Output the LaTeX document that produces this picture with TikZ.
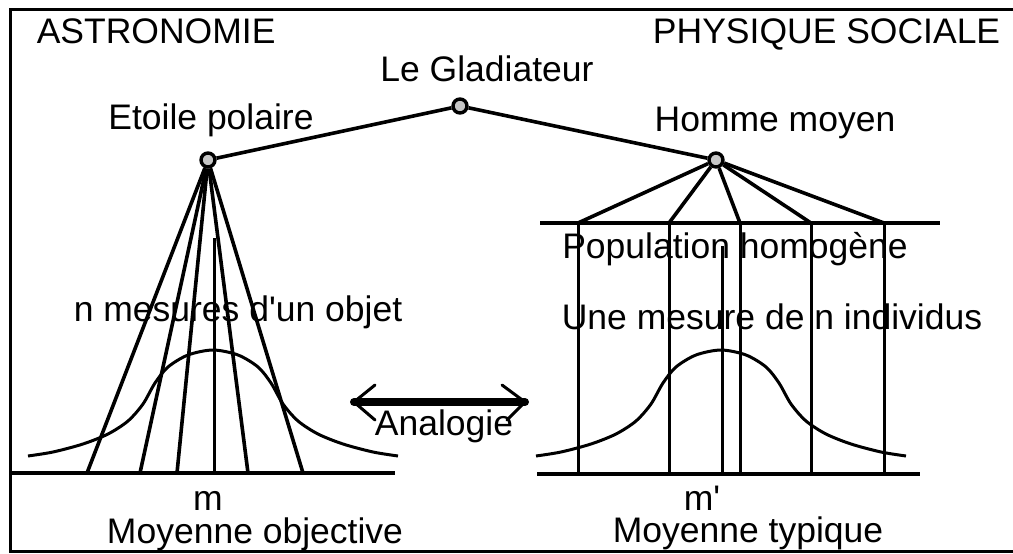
\documentclass[tikz,border=0pt]{standalone}
\usepackage{fontspec}
\setmainfont{Liberation Sans}
\newcommand\bigtext{\fontsize{35.5}{40}\selectfont}
\newcommand\bellcurve[2]{%
    \draw[curve, shift={(#1,#2)}] plot[smooth] coordinates {
        (-185,-3) (-160,-7) (-130,-15) (-105,-25) (-85,-38) (-70,-55) (-58,-76)
        (-45,-92) (-25,-104) (0,-109) (25,-104) (45,-92) (58,-76) (70,-55)
        (85,-38) (105,-25) (130,-15) (160,-7) (185,-3)};}

\begin{document}
\begin{tikzpicture}[x=1pt, y=-1pt, line width=3.6pt,
    lbl/.style={anchor=base, inner sep=0pt, font=\bigtext},
    dot/.style={circle, draw, fill=gray!45, minimum size=14pt, inner sep=0pt, line width=3.4pt},
    curve/.style={line width=3pt},
    thin line/.style={line width=3pt}]
    \useasboundingbox (0,0) rectangle (1013,554);

    \draw[thin line] (1013,9) -- (10,9) -- (10,551) -- (1013,551);

    \node[lbl, anchor=base west] (astro) at (35,43) {ASTRONOMIE};
    \node[lbl, anchor=base east] (social) at (1002,43) {PHYSIQUE SOCIALE};

    \node[dot] (gladiateur) at (460,106) {};
    \node[dot] (etoile) at (208,160) {};
    \node[dot] (homme) at (716,160) {};
    \node[lbl] (gladiateurtxt) at (487,81) {Le Gladiateur};
    \node[lbl] (etoiletxt) at (211,129) {Etoile polaire};
    \node[lbl] (hommetxt) at (775,131) {Homme moyen};
    \draw (etoile) -- (gladiateur) -- (homme);

    % astronomie
    \coordinate (left0) at (10,473);
    \coordinate (left1) at (395,473);
    \draw (left0) -- (left1);
    \foreach \x [count=\i] in {87,140,177,248,303} {
        \coordinate (obs\i) at (\x,473);
        \draw (etoile) -- (obs\i);
    }
    \coordinate (mtop) at (214,238);
    \coordinate (mbot) at (214,473);
    \draw[thin line] (mtop) -- (mbot);
    \bellcurve{213}{459}
    \node[lbl] (mesures) at (238,321) {n mesures d\textquotesingle un objet};
    \node[lbl] (m) at (208,510) {m};
    \node[lbl] (objective) at (255,543) {Moyenne objective};

    % physique sociale
    \coordinate (pop0) at (540,223);
    \coordinate (pop1) at (940,223);
    \draw (pop0) -- (pop1);
    \coordinate (right0) at (537,474);
    \coordinate (right1) at (920,474);
    \draw (right0) -- (right1);
    \foreach \x [count=\i] in {578,669,740,811,884} {
        \coordinate (ind\i) at (\x,223);
        \coordinate (base\i) at (\x,474);
        \draw (homme) -- (ind\i);
        \draw[thin line] (ind\i) -- (base\i);
    }
    \coordinate (mptop) at (722,246);
    \coordinate (mpbot) at (722,474);
    \draw[thin line] (mptop) -- (mpbot);
    \bellcurve{721}{459}
    \node[lbl] (population) at (735,258) {Population homogène};
    \node[lbl] (individus) at (772,329) {Une mesure de n individus};
    \node[lbl] (mprime) at (702,510) {m\textquotesingle};
    \node[lbl] (typique) at (748,542) {Moyenne typique};

    % analogie
    \coordinate (arrL) at (354,402);
    \coordinate (arrR) at (525,402);
    \draw[line width=8pt, line cap=round] (arrL) -- (arrR);
    \draw[thin line, line cap=round, line join=round] (375,385) -- (arrL) -- (375,420);
    \draw[thin line, line cap=round, line join=round] (502,385) -- (arrR) -- (507,420);
    \node[lbl] (analogie) at (444,435) {Analogie};
\end{tikzpicture}
\end{document}
